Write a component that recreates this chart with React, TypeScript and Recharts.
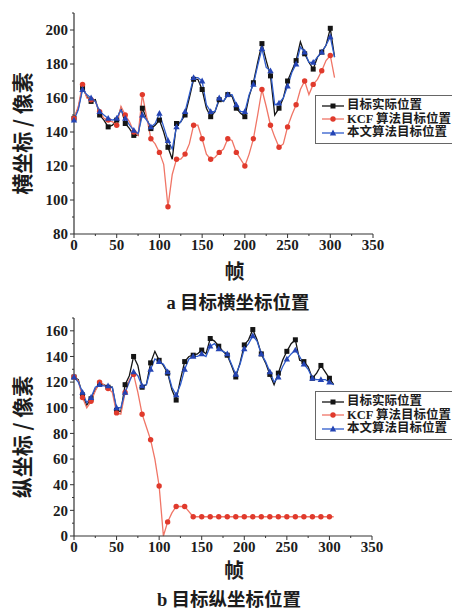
import React from 'react';
import { LineChart, Line, XAxis, YAxis, Legend } from 'recharts';

// frame index (帧)
const frames = [
  0, 5, 10, 15, 20, 25, 30, 35, 40, 45,
  50, 55, 60, 65, 70, 75, 80, 85, 90, 95,
  100, 105, 110, 115, 120, 125, 130, 135, 140, 145,
  150, 155, 160, 165, 170, 175, 180, 185, 190, 195,
  200, 205, 210, 215, 220, 225, 230, 235, 240, 245,
  250, 255, 260, 265, 270, 275, 280, 285, 290, 295,
  300, 305,
];

// a: horizontal coordinate
const xActual = [
  148, 154, 166, 161, 158, 159, 150, 147, 143, 144,
  147, 154, 145, 142, 138, 138, 154, 148, 142, 144,
  147, 140, 131, 124, 145, 146, 150, 160, 171, 171,
  165, 154, 149, 152, 159, 158, 162, 161, 154, 151,
  149, 161, 169, 181, 192, 182, 173, 150, 154, 160,
  170, 176, 182, 193, 186, 181, 177, 184, 187, 191,
  201, 184,
];
const xKcf = [
  148, 155, 168, 160, 159, 158, 152, 148, 147, 146,
  144, 155, 150, 146, 140, 138, 162, 149, 136, 133,
  128, 121, 96, 115, 124, 124, 127, 133, 144, 144,
  136, 127, 124, 125, 128, 130, 136, 135, 128, 124,
  120, 127, 136, 150, 165, 155, 144, 137, 131, 133,
  143, 150, 156, 165, 170, 162, 168, 171, 176, 182,
  185, 172,
];
const xOurs = [
  147, 153, 165, 162, 160, 158, 152, 150, 148, 147,
  148, 153, 148, 144, 141, 139, 150, 147, 143, 145,
  151, 143, 135, 130, 143, 146, 152, 162, 172, 172,
  170, 156, 152, 152, 160, 158, 162, 162, 156, 152,
  152, 162, 168, 179, 189, 178, 176, 156, 157, 160,
  167, 175, 180, 190, 187, 181, 181, 184, 187, 191,
  196, 184,
];

// b: vertical coordinate
const yActual = [
  124, 122, 110, 102, 107, 114, 119, 118, 116, 116,
  98, 97, 118, 125, 140, 133, 116, 118, 135, 144,
  137, 133, 127, 114, 106, 122, 136, 140, 141, 142,
  145, 142, 154, 152, 148, 144, 141, 133, 124, 135,
  149, 153, 161, 153, 142, 135, 126, 118, 127, 137,
  144, 150, 153, 137, 136, 132, 123, 127, 133, 128,
  123, 118,
];
const yKcf = [
  124, 121, 108, 100, 105, 113, 120, 118, 115, 112,
  96, 95, 112, 122, 126, 112, 95, 85, 75, 60,
  39, 0, 11, 18, 23, 23, 23, 19, 15, 15,
  15, 15, 15, 15, 15, 15, 15, 15, 15, 15,
  15, 15, 15, 15, 15, 15, 15, 15, 15, 15,
  15, 15, 15, 15, 15, 15, 15, 15, 15, 15,
  15, 15,
];
const yOurs = [
  124, 120, 112, 104, 108, 116, 118, 117, 117, 116,
  100, 100, 112, 120, 128, 125, 117, 118, 130, 138,
  136, 134, 128, 116, 110, 118, 130, 138, 140, 140,
  142, 140, 148, 150, 146, 144, 142, 134, 126, 134,
  146, 150, 156, 152, 142, 136, 128, 120, 124, 132,
  138, 142, 145, 140, 134, 130, 123, 122, 122, 122,
  120, 118,
];

const names = ['目标实际位置', 'KCF 算法目标位置', '本文算法目标位置'];
const xTicks = [0, 25, 50, 75, 100, 125, 150, 175, 200, 225, 250, 275, 300, 325, 350];
const topYTicks = [80, 90, 100, 110, 120, 130, 140, 150, 160, 170, 180, 190, 200, 210];
const botYTicks = [0, 10, 20, 30, 40, 50, 60, 70, 80, 90, 100, 110, 120, 130, 140, 150, 160, 170];

const topData = frames.map((f, i) => ({ frame: f, actual: xActual[i], kcf: xKcf[i], ours: xOurs[i] }));
const botData = frames.map((f, i) => ({ frame: f, actual: yActual[i], kcf: yKcf[i], ours: yOurs[i] }));

const NUM_FONT = '"Liberation Serif", "Times New Roman", serif';
const CJK_FONT = '"Noto Sans CJK SC", "Noto Sans", sans-serif';
const INK = '#1c1c1c';
const AXIS = '#333';

const series = {
  actual: { line: '#141414', fill: '#141414', shape: 'square' },
  kcf: { line: '#f07566', fill: '#e03a2c', shape: 'circle' },
  ours: { line: '#2f5ccc', fill: '#2444b4', shape: 'triangle' },
};
const legendOrder = ['actual', 'kcf', 'ours'];

function Marker({ shape, cx, cy, color }: { shape: string; cx: number; cy: number; color: string }) {
  if (shape === 'square') return <rect x={cx - 2.5} y={cy - 2.5} width={5} height={5} fill={color} />;
  if (shape === 'circle') return <circle cx={cx} cy={cy} r={2.7} fill={color} />;
  return <polygon points={`${cx},${cy - 3.4} ${cx - 3.2},${cy + 2.4} ${cx + 3.2},${cy + 2.4}`} fill={color} />;
}

// markers only on every other sample, like the original plot
const dotFor = (key: keyof typeof series) => (props: any) => {
  const { cx, cy, index } = props;
  if (cx == null || cy == null || index % 2 !== 0) return <g key={`${key}-${index}`} />;
  const s = series[key];
  return <Marker key={`${key}-${index}`} shape={s.shape} cx={cx} cy={cy} color={s.fill} />;
};

function XTick({ x, y, payload }: any) {
  const major = payload.value % 50 === 0;
  return (
    <g>
      <line x1={x} x2={x} y1={y} y2={y + (major ? 4 : 2)} stroke={AXIS} />
      {major && (
        <text x={x} y={y + 16} textAnchor="middle" fontFamily={NUM_FONT} fontWeight="bold" fontSize={15} fill={INK}>
          {payload.value}
        </text>
      )}
    </g>
  );
}

function YTick({ x, y, payload }: any) {
  const major = payload.value % 20 === 0;
  return (
    <g>
      <line x1={x - (major ? 4 : 2)} x2={x} y1={y} y2={y} stroke={AXIS} />
      {major && (
        <text x={x - 6} y={y} dy="0.35em" textAnchor="end" fontFamily={NUM_FONT} fontWeight="bold" fontSize={15} fill={INK}>
          {payload.value}
        </text>
      )}
    </g>
  );
}

function XTitle({ viewBox, drop }: any) {
  const cx = viewBox.x + viewBox.width / 2 + 11;
  return (
    <text x={cx} y={viewBox.y + drop} dy="0.35em" textAnchor="middle" fontFamily={CJK_FONT} fontWeight="bold" fontSize={20} fill={INK}>
      帧
    </text>
  );
}

function YTitle({ viewBox, text }: any) {
  const cx = 23;
  const cy = viewBox.y + viewBox.height / 2 + 10;
  return (
    <text x={cx} y={cy} dy="0.35em" transform={`rotate(-90 ${cx} ${cy})`} textAnchor="middle" fontFamily={CJK_FONT} fontWeight="bold" fontSize={21} fill={INK}>
      {text}
    </text>
  );
}

function LegendBox({ payload }: any) {
  const items = [...(payload || [])].sort(
    (a: any, b: any) => legendOrder.indexOf(a.dataKey) - legendOrder.indexOf(b.dataKey)
  );
  return (
    <div style={{ border: '1px solid #666', background: '#fff', padding: '3px 0 3px 6px', width: 160, boxSizing: 'border-box' }}>
      {items.map((p: any) => {
        const s = series[p.dataKey as keyof typeof series];
        return (
          <div key={p.dataKey} style={{ display: 'flex', alignItems: 'center', height: 13.5 }}>
            <svg width={22} height={10} style={{ flex: 'none' }}>
              <line x1={0} x2={22} y1={5} y2={5} stroke={s.line} strokeWidth={1.3} />
              <Marker shape={s.shape} cx={11} cy={5} color={s.fill} />
            </svg>
            <span style={{ marginLeft: 3, fontFamily: `${NUM_FONT}, ${CJK_FONT}`, fontWeight: 'bold', fontSize: 12.5, color: INK, whiteSpace: 'nowrap', lineHeight: '13px' }}>
              {p.value}
            </span>
          </div>
        );
      })}
    </div>
  );
}

function Panel({ data, yDomain, yTicks, yTitle, height, margin, legendTop, titleDrop }: any) {
  return (
    <LineChart width={452} height={height} data={data} margin={margin}>
      <XAxis
        dataKey="frame"
        type="number"
        domain={[0, 350]}
        ticks={xTicks}
        interval={0}
        tickSize={0}
        tickMargin={0}
        tickLine={false}
        tick={<XTick />}
        height={26}
        axisLine={{ stroke: AXIS, strokeWidth: 1.2 }}
        label={<XTitle drop={titleDrop} />}
      />
      <YAxis
        type="number"
        domain={yDomain}
        ticks={yTicks}
        interval={0}
        tickSize={0}
        tickMargin={0}
        tickLine={false}
        tick={<YTick />}
        width={74}
        axisLine={{ stroke: AXIS, strokeWidth: 1.2 }}
        label={<YTitle text={yTitle} />}
      />
      <Legend
        layout="horizontal"
        verticalAlign="middle"
        align="center"
        content={<LegendBox />}
        wrapperStyle={{ left: 315, top: legendTop, width: 160, height: 48 }}
      />
      <Line dataKey="actual" name={names[0]} stroke={series.actual.line} strokeWidth={1.3} dot={dotFor('actual')} activeDot={false} isAnimationActive={false} />
      <Line dataKey="kcf" name={names[1]} stroke={series.kcf.line} strokeWidth={1.3} dot={dotFor('kcf')} activeDot={false} isAnimationActive={false} />
      <Line dataKey="ours" name={names[2]} stroke={series.ours.line} strokeWidth={1.3} dot={dotFor('ours')} activeDot={false} isAnimationActive={false} />
    </LineChart>
  );
}

const captionStyle: React.CSSProperties = {
  position: 'absolute',
  transform: 'translateX(-50%)',
  whiteSpace: 'nowrap',
  fontSize: 18.5,
  lineHeight: '19px',
  color: INK,
  fontWeight: 'bold',
};

export default function App() {
  return (
    <div style={{ position: 'absolute', left: 0, top: 0, width: 452, height: 610, overflow: 'hidden', background: '#fff' }}>
      <div style={{ position: 'absolute', left: 0, top: 0 }}>
        <Panel
          data={topData}
          yDomain={[80, 210]}
          yTicks={topYTicks}
          yTitle="横坐标 / 像素"
          height={310}
          margin={{ top: 13, right: 79, left: 0, bottom: 50 }}
          legendTop={95}
          titleDrop={38}
        />
      </div>
      <div style={{ ...captionStyle, left: 238, top: 292 }}>
        <span style={{ fontFamily: NUM_FONT }}>a</span>
        <span style={{ fontFamily: CJK_FONT }}> 目标横坐标位置</span>
      </div>
      <div style={{ position: 'absolute', left: 0, top: 305 }}>
        <Panel
          data={botData}
          yDomain={[0, 170]}
          yTicks={botYTicks}
          yTitle="纵坐标 / 像素"
          height={300}
          margin={{ top: 13, right: 80, left: 0, bottom: 43 }}
          legendTop={86}
          titleDrop={35}
        />
      </div>
      <div style={{ ...captionStyle, left: 229, top: 589 }}>
        <span style={{ fontFamily: NUM_FONT }}>b</span>
        <span style={{ fontFamily: CJK_FONT }}> 目标纵坐标位置</span>
      </div>
    </div>
  );
}
